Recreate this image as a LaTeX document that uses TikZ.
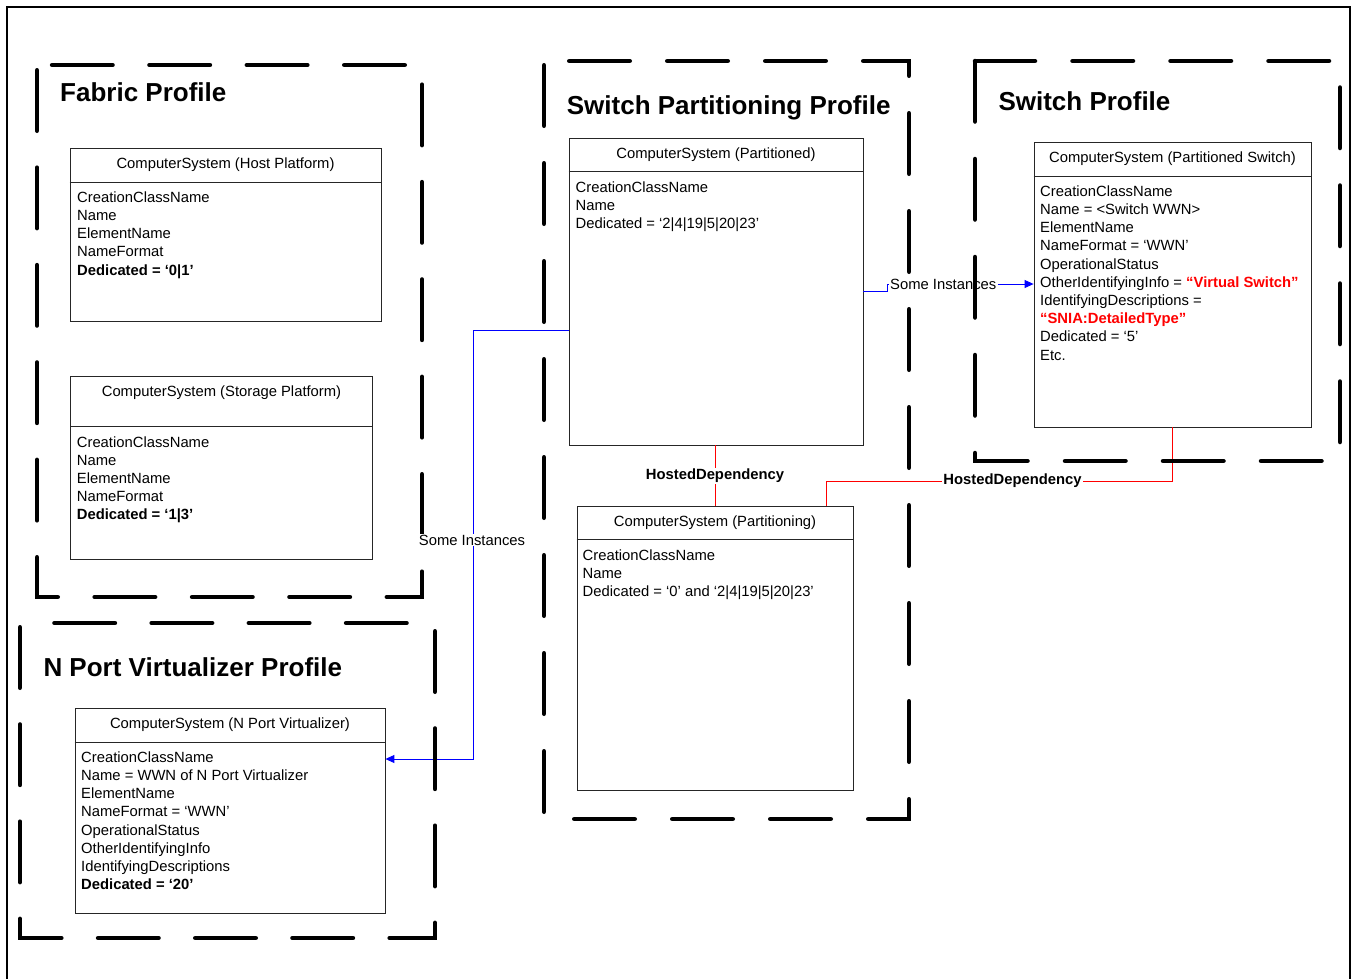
\documentclass[tikz,border=0pt]{standalone}
\usepackage{fontspec}
\setmainfont{Liberation Sans}
\usetikzlibrary{arrows.meta,calc}
\newcommand\attrfont{\fontsize{14.8}{18.2}\selectfont}
\newcommand\headfont{\fontsize{26}{30}\selectfont\bfseries}
\newcommand\classattrs[4]{%
  \foreach \t [count=\i] in {#4} {%
    \node[attr] (#1-\i) at (#2, {#3+18.2*(\i-1)}) {\t};}}
\tikzset{
  cbox/.style={draw=black!85, line width=0.8pt, inner sep=0pt, fill=white},
  cline/.style={draw=black!85, line width=0.8pt},
  ctitle/.style={anchor=base, inner sep=0pt, font=\attrfont},
  attr/.style={anchor=base west, inner sep=0pt, font=\attrfont},
  frame/.style={line width=4.5pt, line cap=round, line join=miter, dash pattern=on 60.5pt off 37.5pt},
  heading/.style={anchor=base west, inner sep=0pt, font=\headfont},
  bconn/.style={draw=blue, line width=0.9pt},
  rconn/.style={draw=red, line width=0.9pt},
  arr/.style={-{Triangle[length=9pt,width=8pt]}},
  clabel/.style={fill=white, inner sep=1.5pt, font=\attrfont},
  hlabel/.style={fill=white, inner sep=1.5pt, font=\attrfont\bfseries},
}
\begin{document}
\begin{tikzpicture}[x=1pt,y=-1pt]
\useasboundingbox (0,0) rectangle (1352,978);
% outer frame
\draw[line width=2pt] (6.5,7) rectangle (1350,995);

% class boxes
\node[cbox, minimum width=311pt, minimum height=173pt] (hp) at (225.5,234.5) {};
\draw[cline] ([yshift=-35pt]hp.north west) -- ([yshift=-35pt]hp.north east);
\node[ctitle] (hpt) at (225.5,168.3) {ComputerSystem (Host Platform)};
\classattrs{hpa}{77}{202.3}{CreationClassName, Name, ElementName, NameFormat, {\bfseries Dedicated = ‘0|1’}}

\node[cbox, minimum width=302pt, minimum height=183pt] (sp) at (221.5,467.5) {};
\draw[cline] ([yshift=-50.5pt]sp.north west) -- ([yshift=-50.5pt]sp.north east);
\node[ctitle] (spt) at (221.5,396) {ComputerSystem (Storage Platform)};
\classattrs{spa}{76.7}{447}{CreationClassName, Name, ElementName, NameFormat, {\bfseries Dedicated = ‘1|3’}}

\node[cbox, minimum width=294pt, minimum height=307pt] (pd) at (716,291.5) {};
\draw[cline] ([yshift=-34pt]pd.north west) -- ([yshift=-34pt]pd.north east);
\node[ctitle] (pdt) at (716,158) {ComputerSystem (Partitioned)};
\classattrs{pda}{575.5}{192.3}{CreationClassName, Name, Dedicated = ‘2|4|19|5|20|23’}

\node[cbox, minimum width=277pt, minimum height=285pt] (ps) at (1172.5,284.5) {};
\draw[cline] ([yshift=-35pt]ps.north west) -- ([yshift=-35pt]ps.north east);
\node[ctitle] (pst) at (1172.5,162) {ComputerSystem (Partitioned Switch)};
\classattrs{psa}{1040}{196.3}{CreationClassName, Name = <Switch WWN>, ElementName, NameFormat = ‘WWN’, OperationalStatus, {OtherIdentifyingInfo = {\color{red}\bfseries “Virtual Switch”}}, IdentifyingDescriptions =, {\color{red}\bfseries “SNIA:DetailedType”}, Dedicated = ‘5’, Etc.}

\node[cbox, minimum width=276pt, minimum height=284pt] (pg) at (715,648) {};
\draw[cline] ([yshift=-34pt]pg.north west) -- ([yshift=-34pt]pg.north east);
\node[ctitle] (pgt) at (715,526) {ComputerSystem (Partitioning)};
\classattrs{pga}{582.5}{560.3}{CreationClassName, Name, Dedicated = ‘0’ and ‘2|4|19|5|20|23’}

\node[cbox, minimum width=310pt, minimum height=205pt] (np) at (230,810.5) {};
\draw[cline] ([yshift=-35pt]np.north west) -- ([yshift=-35pt]np.north east);
\node[ctitle] (npt) at (230,728) {ComputerSystem (N Port Virtualizer)};
\classattrs{npa}{81}{762.3}{CreationClassName, Name = WWN of N Port Virtualizer, ElementName, NameFormat = ‘WWN’, OperationalStatus, OtherIdentifyingInfo, IdentifyingDescriptions, {\bfseries Dedicated = ‘20’}}

% connectors
\coordinate (j1) at (473,330);
\coordinate (j2) at (473,759);
\draw[bconn, arr] (j1 -| pd.west) -- (j1) -- (j2) -- (j2 -| np.east);

\coordinate (k1) at (887,291);
\coordinate (k2) at (887,284);
\draw[bconn, arr] (k1 -| pd.east) -- (k1) -- (k2) -- (k2 -| ps.west);
\node[clabel, anchor=west] (si2) at (888.5,284) {Some Instances};

\draw[rconn] (pg.north |- pd.south) -- (pg.north);
\node[hlabel] (hd1) at (715,476) {HostedDependency};

\coordinate (r1) at (826,481);
\draw[rconn] (ps.south) -- (ps.south |- r1) -- (r1) -- (r1 |- pg.north);
\node[hlabel] (hd2) at (1012.5,481) {HostedDependency};

% dashed profile frames
\draw[frame, dash pattern=on 60.5pt off 36.9pt, dash phase=92.15pt] (37,65) -- (37,597) -- (422,597) -- (422,65) -- cycle;
\draw[frame, dash phase=93.75pt] (544,61) -- (544,819) -- (909,819) -- (909,61) -- cycle;
\draw[frame, dash phase=0pt] (975,61) -- (975,461) -- (1340,461) -- (1340,61) -- cycle;
\draw[frame, dash pattern=on 60.5pt off 36.7pt, dash phase=92.95pt] (20,623) -- (20,938) -- (435,938) -- (435,623) -- cycle;

% label drawn over the frame edge
\node[clabel, inner sep=0.5pt] (si1) at (472,540) {Some Instances};

% headings
\node[heading] (h1) at (60,101.5) {Fabric Profile};
\node[heading] (h2) at (566.7,114) {Switch Partitioning Profile};
\node[heading] (h3) at (998.3,110) {Switch Profile};
\node[heading] (h4) at (43.3,676.7) {N Port Virtualizer Profile};
\end{tikzpicture}
\end{document}
